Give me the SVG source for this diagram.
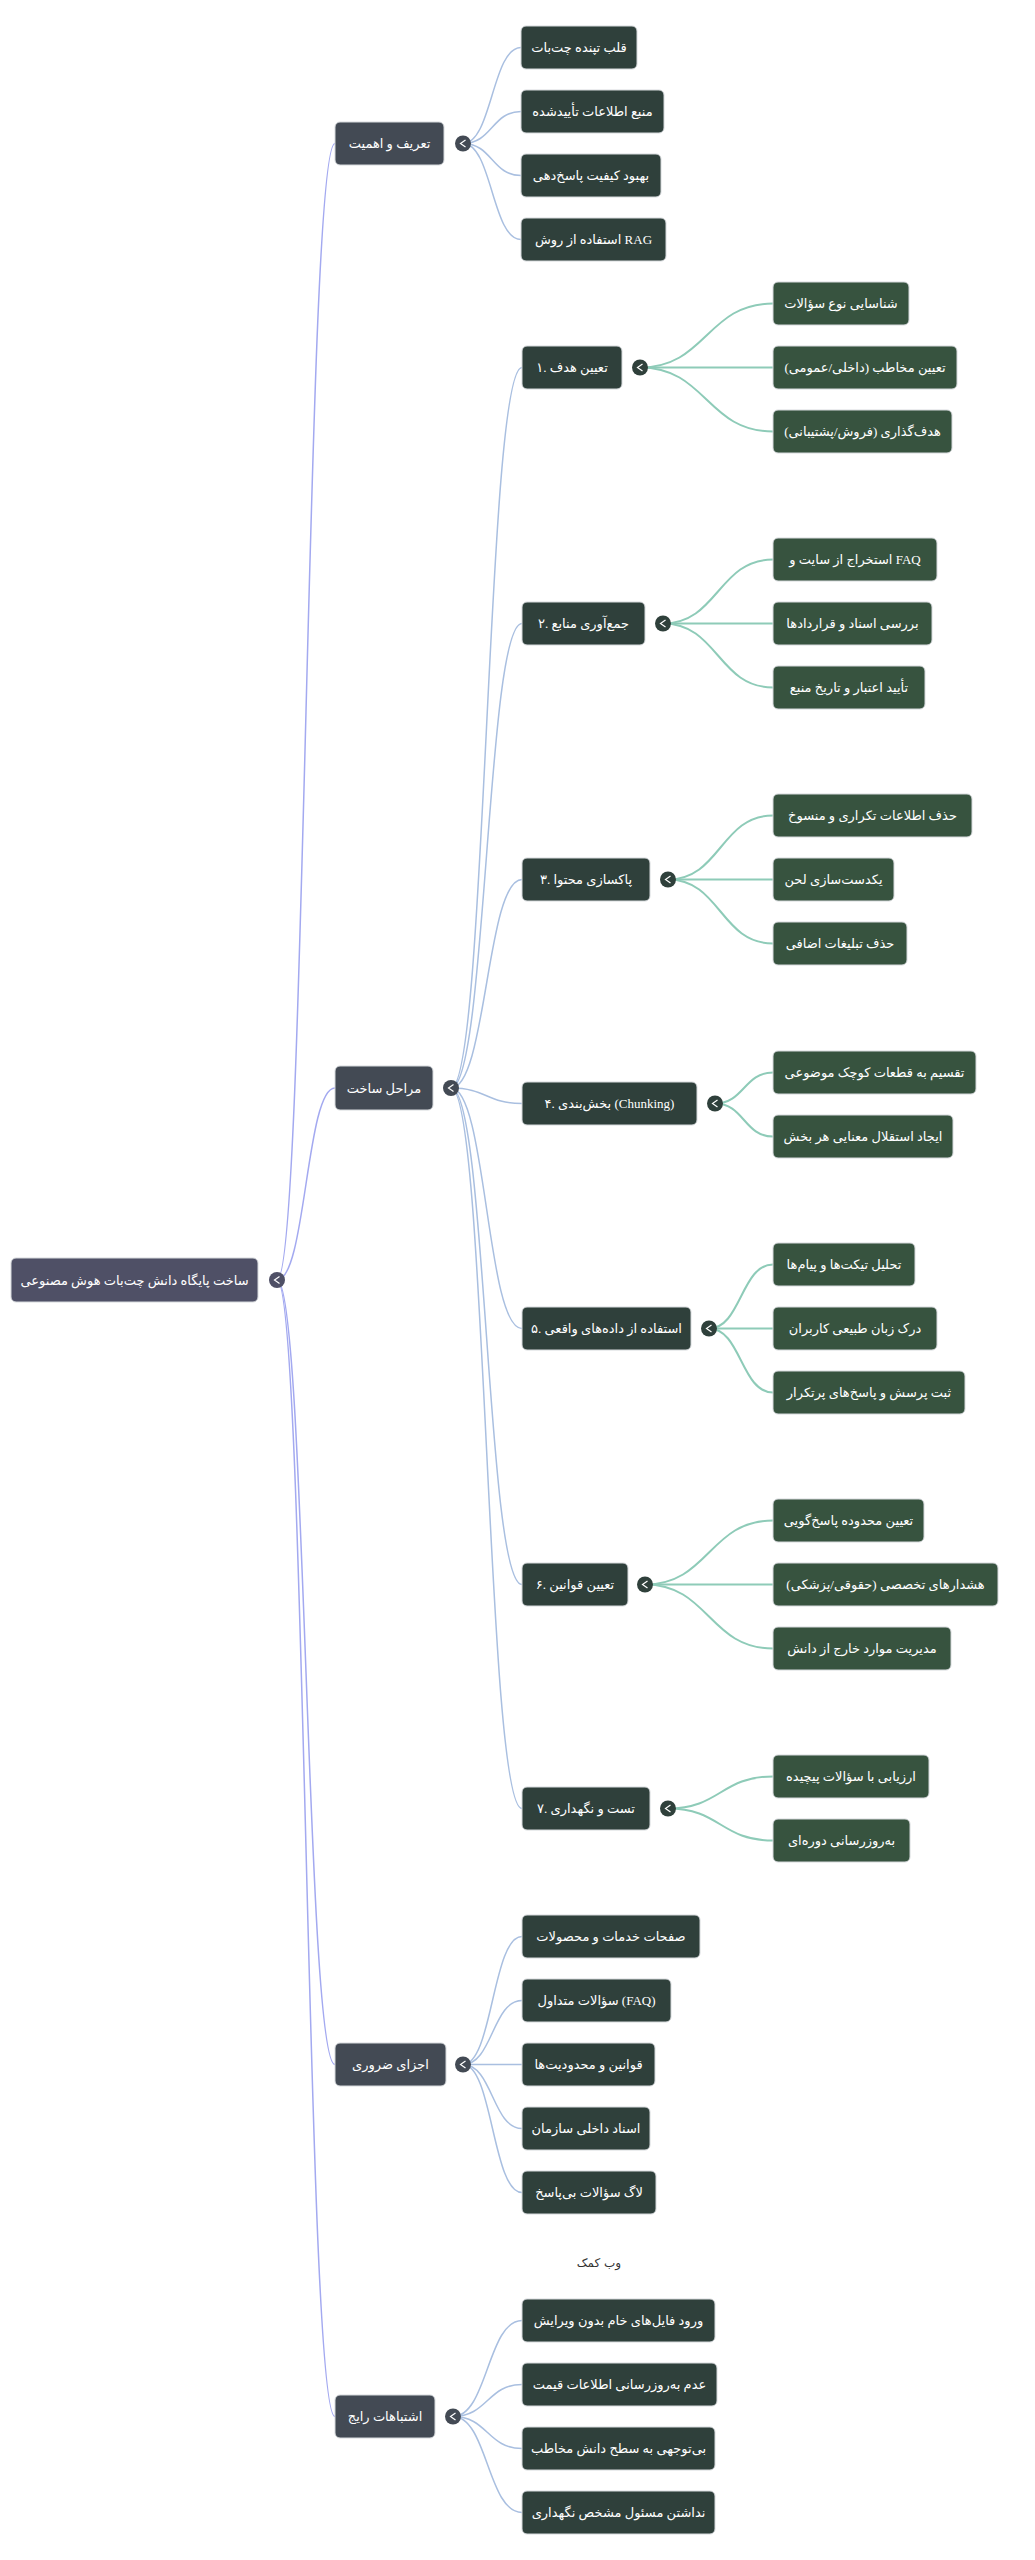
<svg xmlns="http://www.w3.org/2000/svg" width="1035" height="2560" viewBox="0 0 1035 2560">
<style>
.n rect{stroke:#d6d9dc;stroke-width:1}
.n text{font-family:"Liberation Serif","DejaVu Sans",serif;font-size:13px;fill:#ffffff;text-anchor:middle}
.r0 rect{fill:#4f5066}
.r1 rect{fill:#434a54}
.r2 rect{fill:#2f403b}
.r3 rect{fill:#37533f}
.c0{fill:#4f5066}.c1{fill:#434a54}.c2{fill:#2f403b}
.chev{fill:none;stroke:#ffffff;stroke-width:1.2}
.e0{fill:none;stroke:#a3a9f0;stroke-width:1.5}
.e1{fill:none;stroke:#a9bfe0;stroke-width:1.5}
.e2{fill:none;stroke:#8ecbb8;stroke-width:2}
.lbl{font-family:"DejaVu Sans",sans-serif;font-size:12px;fill:#333333;text-anchor:middle}
</style>
<defs>
<g id="chv"><polyline class="chev" points="2.5,-3.5 -2.5,0 2.5,3.5"/></g>
</defs>
<rect width="1035" height="2560" fill="#ffffff"/>
<g id="connectors">
<path class="e0" d="M277,1280 C306,1280 306,143.5 335,143.5"/>
<path class="e0" d="M277,1280 C306,1280 306,1088 335,1088"/>
<path class="e0" d="M277,1280 C306,1280 306,2064.5 335,2064.5"/>
<path class="e0" d="M277,1280 C306,1280 306,2416.5 335,2416.5"/>
<path class="e1" d="M463,143.5 C492,143.5 492,47.5 521,47.5"/>
<path class="e1" d="M463,143.5 C492,143.5 492,111.5 521,111.5"/>
<path class="e1" d="M463,143.5 C492,143.5 492,175.5 521,175.5"/>
<path class="e1" d="M463,143.5 C492,143.5 492,239.5 521,239.5"/>
<path class="e1" d="M451,1088 C486.5,1088 486.5,367.5 522,367.5"/>
<path class="e1" d="M451,1088 C486.5,1088 486.5,623.5 522,623.5"/>
<path class="e1" d="M451,1088 C486.5,1088 486.5,879.5 522,879.5"/>
<path class="e1" d="M451,1088 C486.5,1088 486.5,1103.5 522,1103.5"/>
<path class="e1" d="M451,1088 C486.5,1088 486.5,1328.5 522,1328.5"/>
<path class="e1" d="M451,1088 C486.5,1088 486.5,1584.5 522,1584.5"/>
<path class="e1" d="M451,1088 C486.5,1088 486.5,1808.5 522,1808.5"/>
<path class="e2" d="M640,367.5 C706.5,367.5 706.5,303.5 773,303.5"/>
<path class="e2" d="M640,367.5 C706.5,367.5 706.5,367.5 773,367.5"/>
<path class="e2" d="M640,367.5 C706.5,367.5 706.5,431.5 773,431.5"/>
<path class="e2" d="M663,623.5 C718,623.5 718,559.5 773,559.5"/>
<path class="e2" d="M663,623.5 C718,623.5 718,623.5 773,623.5"/>
<path class="e2" d="M663,623.5 C718,623.5 718,687.5 773,687.5"/>
<path class="e2" d="M668,879.5 C720.5,879.5 720.5,815.5 773,815.5"/>
<path class="e2" d="M668,879.5 C720.5,879.5 720.5,879.5 773,879.5"/>
<path class="e2" d="M668,879.5 C720.5,879.5 720.5,943.5 773,943.5"/>
<path class="e2" d="M715,1103.5 C744,1103.5 744,1072.5 773,1072.5"/>
<path class="e2" d="M715,1103.5 C744,1103.5 744,1136.5 773,1136.5"/>
<path class="e2" d="M709,1328.5 C741,1328.5 741,1264.5 773,1264.5"/>
<path class="e2" d="M709,1328.5 C741,1328.5 741,1328.5 773,1328.5"/>
<path class="e2" d="M709,1328.5 C741,1328.5 741,1392.5 773,1392.5"/>
<path class="e2" d="M645,1584.5 C709,1584.5 709,1520.5 773,1520.5"/>
<path class="e2" d="M645,1584.5 C709,1584.5 709,1584.5 773,1584.5"/>
<path class="e2" d="M645,1584.5 C709,1584.5 709,1648.5 773,1648.5"/>
<path class="e2" d="M668,1808.5 C720.5,1808.5 720.5,1776.5 773,1776.5"/>
<path class="e2" d="M668,1808.5 C720.5,1808.5 720.5,1840.5 773,1840.5"/>
<path class="e1" d="M463,2064.5 C492.5,2064.5 492.5,1936.5 522,1936.5"/>
<path class="e1" d="M463,2064.5 C492.5,2064.5 492.5,2000.5 522,2000.5"/>
<path class="e1" d="M463,2064.5 C492.5,2064.5 492.5,2064.5 522,2064.5"/>
<path class="e1" d="M463,2064.5 C492.5,2064.5 492.5,2128.5 522,2128.5"/>
<path class="e1" d="M463,2064.5 C492.5,2064.5 492.5,2192.5 522,2192.5"/>
<path class="e1" d="M453,2416.5 C487.5,2416.5 487.5,2320.5 522,2320.5"/>
<path class="e1" d="M453,2416.5 C487.5,2416.5 487.5,2384.5 522,2384.5"/>
<path class="e1" d="M453,2416.5 C487.5,2416.5 487.5,2448.5 522,2448.5"/>
<path class="e1" d="M453,2416.5 C487.5,2416.5 487.5,2512.5 522,2512.5"/>
</g>

<g id="root" class="n r0"><rect x="11" y="1258" width="247" height="44" rx="5"/><text x="134.5" y="1285">ساخت پایگاه دانش چت‌بات هوش مصنوعی</text></g>
<g id="root-toggle"><circle class="c0" cx="277" cy="1280" r="8"/><use href="#chv" x="277" y="1280"/></g>

<g id="n-a" class="n r1"><rect x="335" y="122" width="109" height="43" rx="5"/><text x="389.5" y="148">تعریف و اهمیت</text></g>
<g id="n-a-toggle"><circle class="c1" cx="463" cy="143.5" r="8"/><use href="#chv" x="463" y="143.5"/></g>
<g id="n-a1" class="n r2"><rect x="521" y="26" width="116" height="43" rx="5"/><text x="579" y="52">قلب تپنده چت‌بات</text></g>
<g id="n-a2" class="n r2"><rect x="521" y="90" width="143" height="43" rx="5"/><text x="592.5" y="116">منبع اطلاعات تأییدشده</text></g>
<g id="n-a3" class="n r2"><rect x="521" y="154" width="140" height="43" rx="5"/><text x="591" y="180">بهبود کیفیت پاسخ‌دهی</text></g>
<g id="n-a4" class="n r2"><rect x="521" y="218" width="145" height="43" rx="5"/><text x="593.5" y="244">استفاده از روش RAG</text></g>

<g id="n-b" class="n r1"><rect x="335" y="1066" width="98" height="44" rx="5"/><text x="384" y="1092.5">مراحل ساخت</text></g>
<g id="n-b-toggle"><circle class="c1" cx="451" cy="1088" r="8"/><use href="#chv" x="451" y="1088"/></g>

<g id="n-b1" class="n r2"><rect x="522" y="346" width="100" height="43" rx="5"/><text x="572" y="372">۱. تعیین هدف</text></g>
<g id="n-b1-toggle"><circle class="c2" cx="640" cy="367.5" r="8"/><use href="#chv" x="640" y="367.5"/></g>
<g id="n-b1a" class="n r3"><rect x="773" y="282" width="136" height="43" rx="5"/><text x="841" y="308">شناسایی نوع سؤالات</text></g>
<g id="n-b1b" class="n r3"><rect x="773" y="346" width="184" height="43" rx="5"/><text x="865" y="372">تعیین مخاطب (داخلی/عمومی)</text></g>
<g id="n-b1c" class="n r3"><rect x="773" y="410" width="179" height="43" rx="5"/><text x="862.5" y="436">هدف‌گذاری (فروش/پشتیبانی)</text></g>

<g id="n-b2" class="n r2"><rect x="522" y="602" width="123" height="43" rx="5"/><text x="583.5" y="628">۲. جمع‌آوری منابع</text></g>
<g id="n-b2-toggle"><circle class="c2" cx="663" cy="623.5" r="8"/><use href="#chv" x="663" y="623.5"/></g>
<g id="n-b2a" class="n r3"><rect x="773" y="538" width="164" height="43" rx="5"/><text x="855" y="564">استخراج از سایت و FAQ</text></g>
<g id="n-b2b" class="n r3"><rect x="773" y="602" width="159" height="43" rx="5"/><text x="852.5" y="628">بررسی اسناد و قراردادها</text></g>
<g id="n-b2c" class="n r3"><rect x="773" y="666" width="152" height="43" rx="5"/><text x="849" y="692">تأیید اعتبار و تاریخ منبع</text></g>

<g id="n-b3" class="n r2"><rect x="522" y="858" width="128" height="43" rx="5"/><text x="586" y="884">۳. پاکسازی محتوا</text></g>
<g id="n-b3-toggle"><circle class="c2" cx="668" cy="879.5" r="8"/><use href="#chv" x="668" y="879.5"/></g>
<g id="n-b3a" class="n r3"><rect x="773" y="794" width="199" height="43" rx="5"/><text x="872.5" y="820">حذف اطلاعات تکراری و منسوخ</text></g>
<g id="n-b3b" class="n r3"><rect x="773" y="858" width="121" height="43" rx="5"/><text x="833.5" y="884">یکدست‌سازی لحن</text></g>
<g id="n-b3c" class="n r3"><rect x="773" y="922" width="134" height="43" rx="5"/><text x="840" y="948">حذف تبلیغات اضافی</text></g>

<g id="n-b4" class="n r2"><rect x="522" y="1082" width="175" height="43" rx="5"/><text x="609.5" y="1108">۴. بخش‌بندی (Chunking)</text></g>
<g id="n-b4-toggle"><circle class="c2" cx="715" cy="1103.5" r="8"/><use href="#chv" x="715" y="1103.5"/></g>
<g id="n-b4a" class="n r3"><rect x="773" y="1051" width="203" height="43" rx="5"/><text x="874.5" y="1077">تقسیم به قطعات کوچک موضوعی</text></g>
<g id="n-b4b" class="n r3"><rect x="773" y="1115" width="180" height="43" rx="5"/><text x="863" y="1141">ایجاد استقلال معنایی هر بخش</text></g>

<g id="n-b5" class="n r2"><rect x="522" y="1307" width="169" height="43" rx="5"/><text x="606.5" y="1333">۵. استفاده از داده‌های واقعی</text></g>
<g id="n-b5-toggle"><circle class="c2" cx="709" cy="1328.5" r="8"/><use href="#chv" x="709" y="1328.5"/></g>
<g id="n-b5a" class="n r3"><rect x="773" y="1243" width="142" height="43" rx="5"/><text x="844" y="1269">تحلیل تیکت‌ها و پیام‌ها</text></g>
<g id="n-b5b" class="n r3"><rect x="773" y="1307" width="164" height="43" rx="5"/><text x="855" y="1333">درک زبان طبیعی کاربران</text></g>
<g id="n-b5c" class="n r3"><rect x="773" y="1371" width="192" height="43" rx="5"/><text x="869" y="1397">ثبت پرسش و پاسخ‌های پرتکرار</text></g>

<g id="n-b6" class="n r2"><rect x="522" y="1563" width="106" height="43" rx="5"/><text x="575" y="1589">۶. تعیین قوانین</text></g>
<g id="n-b6-toggle"><circle class="c2" cx="645" cy="1584.5" r="8"/><use href="#chv" x="645" y="1584.5"/></g>
<g id="n-b6a" class="n r3"><rect x="773" y="1499" width="151" height="43" rx="5"/><text x="848.5" y="1525">تعیین محدوده پاسخ‌گویی</text></g>
<g id="n-b6b" class="n r3"><rect x="773" y="1563" width="225" height="43" rx="5"/><text x="885.5" y="1589">هشدارهای تخصصی (حقوقی/پزشکی)</text></g>
<g id="n-b6c" class="n r3"><rect x="773" y="1627" width="178" height="43" rx="5"/><text x="862" y="1653">مدیریت موارد خارج از دانش</text></g>

<g id="n-b7" class="n r2"><rect x="522" y="1787" width="128" height="43" rx="5"/><text x="586" y="1813">۷. تست و نگهداری</text></g>
<g id="n-b7-toggle"><circle class="c2" cx="668" cy="1808.5" r="8"/><use href="#chv" x="668" y="1808.5"/></g>
<g id="n-b7a" class="n r3"><rect x="773" y="1755" width="156" height="43" rx="5"/><text x="851" y="1781">ارزیابی با سؤالات پیچیده</text></g>
<g id="n-b7b" class="n r3"><rect x="773" y="1819" width="137" height="43" rx="5"/><text x="841.5" y="1845">به‌روزرسانی دوره‌ای</text></g>

<g id="n-c" class="n r1"><rect x="335" y="2043" width="111" height="43" rx="5"/><text x="390.5" y="2069">اجزای ضروری</text></g>
<g id="n-c-toggle"><circle class="c1" cx="463" cy="2064.5" r="8"/><use href="#chv" x="463" y="2064.5"/></g>
<g id="n-c1" class="n r2"><rect x="522" y="1915" width="178" height="43" rx="5"/><text x="611" y="1941">صفحات خدمات و محصولات</text></g>
<g id="n-c2" class="n r2"><rect x="522" y="1979" width="149" height="43" rx="5"/><text x="596.5" y="2005">سؤالات متداول (FAQ)</text></g>
<g id="n-c3" class="n r2"><rect x="522" y="2043" width="133" height="43" rx="5"/><text x="588.5" y="2069">قوانین و محدودیت‌ها</text></g>
<g id="n-c4" class="n r2"><rect x="522" y="2107" width="128" height="43" rx="5"/><text x="586" y="2133">اسناد داخلی سازمان</text></g>
<g id="n-c5" class="n r2"><rect x="522" y="2171" width="134" height="43" rx="5"/><text x="589" y="2197">لاگ سؤالات بی‌پاسخ</text></g>

<text class="lbl" x="599" y="2267">وب کمک</text>

<g id="n-d" class="n r1"><rect x="335" y="2395" width="100" height="43" rx="5"/><text x="385" y="2421">اشتباهات رایج</text></g>
<g id="n-d-toggle"><circle class="c1" cx="453" cy="2416.5" r="8"/><use href="#chv" x="453" y="2416.5"/></g>
<g id="n-d1" class="n r2"><rect x="522" y="2299" width="193" height="43" rx="5"/><text x="618.5" y="2325">ورود فایل‌های خام بدون ویرایش</text></g>
<g id="n-d2" class="n r2"><rect x="522" y="2363" width="195" height="43" rx="5"/><text x="619.5" y="2389">عدم به‌روزرسانی اطلاعات قیمت</text></g>
<g id="n-d3" class="n r2"><rect x="522" y="2427" width="193" height="43" rx="5"/><text x="618.5" y="2453">بی‌توجهی به سطح دانش مخاطب</text></g>
<g id="n-d4" class="n r2"><rect x="522" y="2491" width="193" height="43" rx="5"/><text x="618.5" y="2517">نداشتن مسئول مشخص نگهداری</text></g>
</svg>
